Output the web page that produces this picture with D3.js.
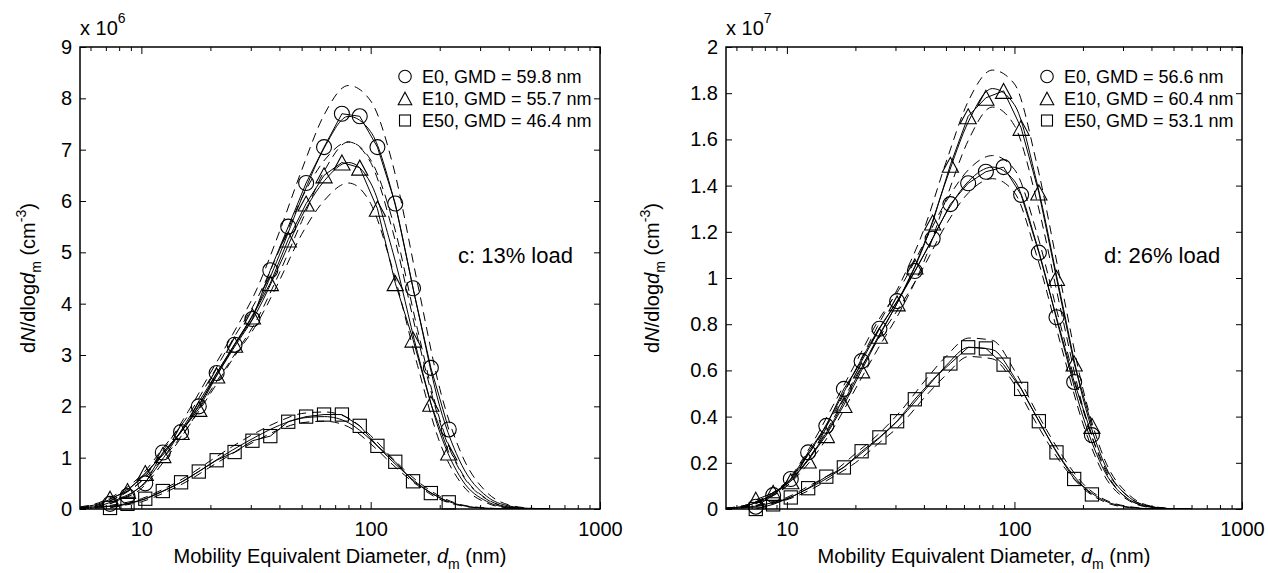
<!DOCTYPE html>
<html>
<head>
<meta charset="utf-8">
<script src="https://cdn.jsdelivr.net/npm/d3@7"></script>
<style>
  body { margin: 0; background: #fff; }
  text { font-family: "Liberation Sans", Arial, sans-serif; }
</style>
</head>
<body>
<div id="chart"></div>
<script>
// measured diameters (nm) for the marker series
const diam = [7.3, 8.7, 10.4, 12.4, 14.9, 17.8, 21.3, 25.5, 30.5, 36.5, 43.7, 52.3, 62.6, 74.9, 89.6, 107, 128, 153, 183, 219];
// diameters where the fitted curves were read
const fitDiam = [5.4, 6.5, 8, 10, 12.5, 16, 20, 25, 32, 40, 50, 63, 80, 100, 125, 160, 200, 250, 320, 400, 500, 600];

// panel c (x 10^6)
const cE0  = [0.1, 0.25, 0.5, 1.1, 1.5, 2.0, 2.65, 3.2, 3.7, 4.65, 5.5, 6.35, 7.05, 7.7, 7.65, 7.05, 5.95, 4.3, 2.75, 1.55];
const cE10 = [0.2, 0.35, 0.7, 1.05, 1.5, 1.95, 2.6, 3.2, 3.75, 4.4, 5.25, 5.95, 6.5, 6.75, 6.65, 5.85, 4.4, 3.3, 2.05, 1.1];
const cE50 = [0.02, 0.1, 0.2, 0.35, 0.52, 0.73, 0.95, 1.11, 1.33, 1.42, 1.7, 1.8, 1.84, 1.84, 1.62, 1.23, 0.92, 0.54, 0.31, 0.13];
const cE0Fit  = [0.02, 0.06, 0.2, 0.45, 1.0, 1.75, 2.45, 3.15, 3.95, 4.95, 6.05, 7.05, 7.65, 7.35, 6.1, 3.9, 2.0, 0.85, 0.25, 0.06, 0.01, 0];
const cE0Hi   = [0.03, 0.08, 0.25, 0.55, 1.15, 1.9, 2.65, 3.4, 4.3, 5.4, 6.6, 7.7, 8.25, 7.95, 6.7, 4.4, 2.35, 1.05, 0.33, 0.08, 0.015, 0];
const cE0Lo   = [0.01, 0.05, 0.17, 0.4, 0.92, 1.6, 2.3, 2.95, 3.7, 4.6, 5.6, 6.6, 7.15, 6.8, 5.6, 3.5, 1.75, 0.7, 0.2, 0.04, 0.005, 0];
const cE10Fit = [0.03, 0.1, 0.28, 0.6, 1.1, 1.7, 2.4, 3.1, 3.85, 4.75, 5.7, 6.4, 6.75, 6.35, 5.0, 3.05, 1.5, 0.57, 0.15, 0.03, 0.005, 0];
const cE10Hi  = [0.04, 0.12, 0.32, 0.66, 1.2, 1.82, 2.55, 3.3, 4.1, 5.05, 6.05, 6.8, 7.15, 6.75, 5.4, 3.35, 1.7, 0.68, 0.19, 0.04, 0.007, 0];
const cE10Lo  = [0.02, 0.08, 0.24, 0.54, 1.0, 1.6, 2.25, 2.92, 3.62, 4.45, 5.35, 6.02, 6.35, 5.95, 4.65, 2.8, 1.3, 0.48, 0.12, 0.02, 0.003, 0];
const cE50Fit = [0.01, 0.03, 0.08, 0.17, 0.35, 0.6, 0.88, 1.15, 1.42, 1.63, 1.77, 1.8, 1.68, 1.35, 0.92, 0.5, 0.22, 0.07, 0.015, 0.002, 0, 0];
const cE50Hi  = [0.015, 0.04, 0.1, 0.2, 0.39, 0.65, 0.94, 1.22, 1.5, 1.71, 1.86, 1.89, 1.77, 1.43, 0.98, 0.54, 0.25, 0.08, 0.02, 0.003, 0, 0];
const cE50Lo  = [0.005, 0.02, 0.06, 0.14, 0.31, 0.55, 0.82, 1.08, 1.34, 1.55, 1.68, 1.71, 1.6, 1.27, 0.86, 0.46, 0.19, 0.06, 0.012, 0.001, 0, 0];

// panel d (x 10^7)
const dE0  = [0.01, 0.06, 0.13, 0.245, 0.36, 0.52, 0.64, 0.78, 0.9, 1.03, 1.17, 1.32, 1.41, 1.46, 1.48, 1.36, 1.11, 0.83, 0.55, 0.32];
const dE10 = [0.04, 0.07, 0.12, 0.21, 0.32, 0.45, 0.6, 0.75, 0.89, 1.05, 1.24, 1.49, 1.70, 1.78, 1.81, 1.65, 1.37, 1.0, 0.63, 0.36];
const dE50 = [0.0, 0.02, 0.05, 0.09, 0.14, 0.18, 0.25, 0.31, 0.38, 0.475, 0.56, 0.63, 0.70, 0.695, 0.625, 0.52, 0.38, 0.245, 0.13, 0.063];
const dE0Fit  = [0.003, 0.012, 0.045, 0.11, 0.24, 0.42, 0.6, 0.77, 0.93, 1.1, 1.28, 1.42, 1.48, 1.42, 1.15, 0.75, 0.4, 0.16, 0.04, 0.008, 0.001, 0];
const dE0Hi   = [0.004, 0.015, 0.05, 0.12, 0.26, 0.45, 0.63, 0.81, 0.97, 1.15, 1.33, 1.47, 1.53, 1.47, 1.2, 0.79, 0.43, 0.18, 0.05, 0.01, 0.001, 0];
const dE0Lo   = [0.002, 0.01, 0.04, 0.1, 0.22, 0.39, 0.57, 0.73, 0.89, 1.05, 1.23, 1.37, 1.43, 1.37, 1.1, 0.71, 0.37, 0.14, 0.035, 0.006, 0.001, 0];
const dE10Fit = [0.003, 0.012, 0.045, 0.11, 0.22, 0.38, 0.56, 0.74, 0.93, 1.14, 1.42, 1.68, 1.82, 1.75, 1.42, 0.92, 0.48, 0.19, 0.05, 0.01, 0.001, 0];
const dE10Hi  = [0.004, 0.015, 0.05, 0.12, 0.24, 0.41, 0.6, 0.79, 0.99, 1.21, 1.5, 1.77, 1.9, 1.84, 1.5, 0.98, 0.52, 0.21, 0.06, 0.012, 0.002, 0];
const dE10Lo  = [0.002, 0.01, 0.04, 0.1, 0.2, 0.35, 0.52, 0.69, 0.87, 1.07, 1.34, 1.6, 1.74, 1.66, 1.34, 0.86, 0.44, 0.17, 0.04, 0.008, 0.001, 0];
const dE50Fit = [0.002, 0.006, 0.02, 0.045, 0.09, 0.15, 0.22, 0.3, 0.4, 0.51, 0.62, 0.7, 0.69, 0.57, 0.4, 0.22, 0.1, 0.035, 0.008, 0.001, 0, 0];
const dE50Hi  = [0.003, 0.008, 0.024, 0.05, 0.1, 0.16, 0.24, 0.32, 0.43, 0.55, 0.66, 0.74, 0.73, 0.6, 0.42, 0.24, 0.11, 0.04, 0.01, 0.002, 0, 0];
const dE50Lo  = [0.001, 0.005, 0.017, 0.04, 0.08, 0.14, 0.2, 0.28, 0.37, 0.48, 0.58, 0.66, 0.65, 0.54, 0.37, 0.2, 0.09, 0.03, 0.006, 0.001, 0, 0];

// ticks and labels
const xMajor = [10, 100, 1000];
const xMinor = [6, 7, 8, 9, 20, 30, 40, 50, 60, 70, 80, 90, 200, 300, 400, 500, 600, 700, 800, 900];
const yTicksC = [0, 1, 2, 3, 4, 5, 6, 7, 8, 9];
const yTicksD = [0, 0.2, 0.4, 0.6, 0.8, 1, 1.2, 1.4, 1.6, 1.8, 2];
const legendC = ["E0, GMD = 59.8 nm", "E10, GMD = 55.7 nm", "E50, GMD = 46.4 nm"];
const legendD = ["E0, GMD = 56.6 nm", "E10, GMD = 60.4 nm", "E50, GMD = 53.1 nm"];
const shapes = ["circle", "triangle", "square"];

const W = 1268, H = 573;
const plotTop = 47, plotBottom = 509;
const xDomain = [5.4, 1000];
const font = "Liberation Sans, Arial, sans-serif";

const svg = d3.select("#chart").append("svg")
    .attr("width", W)
    .attr("height", H);
svg.append("rect").attr("width", W).attr("height", H).attr("fill", "#fff");

const panels = [
  {id: "c", left: 80, right: 600, yMax: 9, yTicks: yTicksC, exp: "6", label: "c: 13% load", labelX: 458,
   legend: legendC, ylabX: 35,
   data: [cE0, cE10, cE50], fit: [cE0Fit, cE10Fit, cE50Fit], hi: [cE0Hi, cE10Hi, cE50Hi], lo: [cE0Lo, cE10Lo, cE50Lo]},
  {id: "d", left: 726, right: 1242, yMax: 2, yTicks: yTicksD, exp: "7", label: "d: 26% load", labelX: 1104,
   legend: legendD, ylabX: 659,
   data: [dE0, dE10, dE50], fit: [dE0Fit, dE10Fit, dE50Fit], hi: [dE0Hi, dE10Hi, dE50Hi], lo: [dE0Lo, dE10Lo, dE50Lo]}
];

function marker(sel, shape, cx, cy, s) {
  if (shape === "circle") {
    sel.append("circle").attr("cx", cx).attr("cy", cy).attr("r", s * 0.5);
  } else if (shape === "triangle") {
    const w = s * 1.08, h = s;
    sel.append("path").attr("d", `M${cx},${cy - h / 2}L${cx + w / 2},${cy + h / 2}L${cx - w / 2},${cy + h / 2}Z`);
  } else {
    const a = s * 0.88;
    sel.append("rect").attr("x", cx - a / 2).attr("y", cy - a / 2).attr("width", a).attr("height", a);
  }
}

panels.forEach(p => {
  const g = svg.append("g");
  const x = d3.scaleLog().domain(xDomain).range([p.left, p.right]);
  const y = d3.scaleLinear().domain([0, p.yMax]).range([plotBottom, plotTop]);

  g.append("clipPath").attr("id", "clip-" + p.id)
    .append("rect").attr("x", p.left).attr("y", plotTop)
    .attr("width", p.right - p.left).attr("height", plotBottom - plotTop);

  const plot = g.append("g").attr("clip-path", `url(#clip-${p.id})`);

  const fitLine = d3.line()
      .x((d, i) => x(fitDiam[i]))
      .y(d => y(d))
      .curve(d3.curveMonotoneX);
  const dataLine = d3.line()
      .x((d, i) => x(diam[i]))
      .y(d => y(d));

  // dashed bounds and solid fits
  [p.hi, p.lo].forEach(set => {
    plot.selectAll(null).data(set).join("path")
      .attr("d", fitLine)
      .attr("fill", "none").attr("stroke", "#000").attr("stroke-width", 1)
      .attr("stroke-dasharray", "9,6");
  });
  plot.selectAll(null).data(p.fit).join("path")
    .attr("d", fitLine)
    .attr("fill", "none").attr("stroke", "#000").attr("stroke-width", 1);

  // measured lines
  plot.selectAll(null).data(p.data).join("path")
    .attr("d", dataLine)
    .attr("fill", "none").attr("stroke", "#000").attr("stroke-width", 1);

  // markers
  const mk = g.append("g").attr("fill", "none").attr("stroke", "#000").attr("stroke-width", 1.1);
  p.data.forEach((series, k) => {
    series.forEach((v, i) => marker(mk, shapes[k], x(diam[i]), y(v), 15));
  });

  // axes
  const styleAxis = a => {
    a.select(".domain").remove();
    a.attr("font-size", 20).attr("font-family", font);
    a.selectAll("text").attr("fill", "#000");
    a.selectAll("line").attr("stroke", "#000");
  };
  g.append("g").attr("transform", `translate(0,${plotBottom})`)
    .call(d3.axisBottom(x).tickValues(xMajor).tickFormat(d3.format("d")).tickSizeInner(-7).tickSizeOuter(0).tickPadding(13))
    .call(styleAxis);
  g.append("g").attr("transform", `translate(0,${plotBottom})`)
    .call(d3.axisBottom(x).tickValues(xMinor).tickFormat("").tickSizeInner(-4).tickSizeOuter(0))
    .call(styleAxis);
  g.append("g").attr("transform", `translate(0,${plotTop})`)
    .call(d3.axisTop(x).tickValues(xMajor).tickFormat("").tickSizeInner(-7).tickSizeOuter(0))
    .call(styleAxis);
  g.append("g").attr("transform", `translate(0,${plotTop})`)
    .call(d3.axisTop(x).tickValues(xMinor).tickFormat("").tickSizeInner(-4).tickSizeOuter(0))
    .call(styleAxis);
  g.append("g").attr("transform", `translate(${p.left},0)`)
    .call(d3.axisLeft(y).tickValues(p.yTicks).tickFormat(d3.format("~g")).tickSizeInner(-6).tickSizeOuter(0).tickPadding(8))
    .call(styleAxis);
  g.append("g").attr("transform", `translate(${p.right},0)`)
    .call(d3.axisRight(y).tickValues(p.yTicks).tickFormat("").tickSizeInner(-6).tickSizeOuter(0))
    .call(styleAxis);

  g.append("rect")
    .attr("x", p.left).attr("y", plotTop)
    .attr("width", p.right - p.left).attr("height", plotBottom - plotTop)
    .attr("fill", "none").attr("stroke", "#000").attr("stroke-width", 1.5);

  // exponent
  const ex = g.append("text").attr("x", p.left).attr("y", 35).attr("font-size", 20);
  ex.append("tspan").text("x 10");
  ex.append("tspan").attr("font-size", 14).attr("dy", -12).text(p.exp);

  // x label
  const xl = g.append("text")
    .attr("x", (p.left + p.right) / 2).attr("y", 563)
    .attr("text-anchor", "middle").attr("font-size", 20);
  xl.append("tspan").text("Mobility Equivalent Diameter, ");
  xl.append("tspan").attr("font-style", "italic").text("d");
  xl.append("tspan").attr("font-size", 14).attr("dy", 6).text("m");
  xl.append("tspan").attr("dy", -6).text(" (nm)");

  // y label
  const yl = g.append("text")
    .attr("transform", `translate(${p.ylabX},${(plotTop + plotBottom) / 2}) rotate(-90)`)
    .attr("text-anchor", "middle").attr("font-size", 20);
  yl.append("tspan").text("d");
  yl.append("tspan").attr("font-style", "italic").text("N");
  yl.append("tspan").text("/dlog");
  yl.append("tspan").attr("font-style", "italic").text("d");
  yl.append("tspan").attr("font-size", 14).attr("dy", 6).text("m");
  yl.append("tspan").attr("dy", -6).text(" (cm");
  yl.append("tspan").attr("font-size", 14).attr("dy", -9).text("-3");
  yl.append("tspan").attr("dy", 9).text(")");

  // legend
  const lg = g.append("g");
  p.legend.forEach((t, k) => {
    const by = 83 + k * 22;
    const m = lg.append("g").attr("fill", "none").attr("stroke", "#000").attr("stroke-width", 1.1);
    marker(m, shapes[k], p.right - 195, by - 6.5, 12.5);
    lg.append("text").attr("x", p.right - 178).attr("y", by).attr("font-size", 18).text(t);
  });

  // panel label
  g.append("text").attr("x", p.labelX).attr("y", 263).attr("font-size", 22).text(p.label);
});
</script>
</body>
</html>
